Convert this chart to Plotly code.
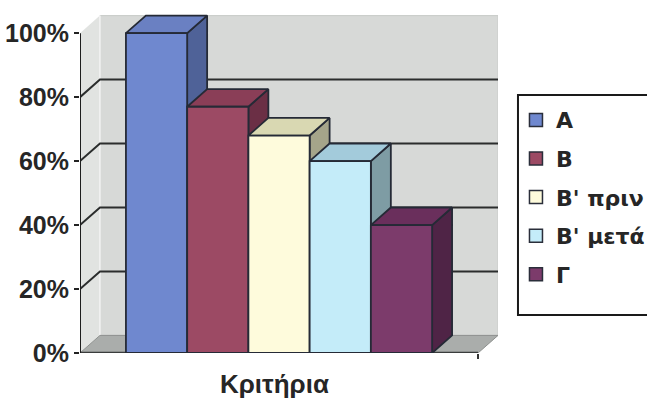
import plotly.graph_objects as go

# ---- data ----
categories = ["A", "B", "B' πριν", "B' μετά", "Γ"]
values = [100, 77, 68, 60, 40]
front_colors = ["#6f88cf", "#9c4a64", "#fefbdc", "#c4ecf9", "#7c3b6b"]
top_colors = ["#6a80c2", "#8a3e57", "#d9d8b2", "#a3cbdb", "#6a2f5c"]
side_colors = ["#4f6298", "#6b2f45", "#a5a58a", "#7e9ca4", "#4f2446"]
y_ticks = [0, 20, 40, 60, 80, 100]
y_tick_text = [f"{v}%" for v in y_ticks]
grid_vals = [20, 40, 60, 80]

# ---- 3D geometry (data units) ----
DX = 0.326      # depth offset in category units
DY = 5.5        # depth offset in percent units
X0 = -1.25      # left front edge of floor
X1 = len(categories) - 1 + 1.25  # right front edge of floor
YMAX = 100
EDGE = "#252a36"
FONT = "Liberation Sans, Arial"

fig = go.Figure()

def poly(xs, ys, fill, line_color=None, width=0):
    fig.add_trace(go.Scatter(
        x=xs + [xs[0]], y=ys + [ys[0]], mode="lines", fill="toself",
        fillcolor=fill,
        line=dict(color=line_color or fill, width=width),
        hoverinfo="skip", showlegend=False))

def line(xs, ys, color, width):
    fig.add_trace(go.Scatter(x=xs, y=ys, mode="lines",
                             line=dict(color=color, width=width),
                             hoverinfo="skip", showlegend=False))

# walls
poly([X0 + DX, X1 + DX, X1 + DX, X0 + DX], [DY, DY, YMAX + DY, YMAX + DY], "#d7d9d7", "#c8cac8", 1)
poly([X0, X0 + DX, X0 + DX, X0], [0, DY, YMAX + DY, YMAX], "#e1e3e1", "#e1e3e1", 0)
line([X0 + DX, X0 + DX], [DY, YMAX + DY], "#f4f4f4", 1.5)
poly([X0, X1, X1 + DX, X0 + DX], [0, 0, DY, DY], "#aaadab", "#8e918f", 1)

# gridlines (side wall + back wall)
for g in grid_vals:
    line([X0, X0 + DX, X1 + DX], [g, g + DY, g + DY], "#2b2d2d", 2)

# front floor edge and axis line
line([X0, X1], [0, 0], "#3a3c3c", 2.5)
line([X0, X0], [0, YMAX], "#1e1e1e", 2)

# bars
for i, (v, fc, tc, sc) in enumerate(zip(values, front_colors, top_colors, side_colors)):
    l, r = i - 0.5, i + 0.5
    poly([r, r + DX, r + DX, r], [0, DY, v + DY, v], sc, EDGE, 1.8)
    poly([l, r, r + DX, l + DX], [v, v, v + DY, v + DY], tc, EDGE, 1.8)
    poly([l, r, r, l], [0, 0, v, v], fc, EDGE, 1.8)

# legend entries
for i, (name, fc) in enumerate(zip(categories, front_colors)):
    fig.add_trace(go.Scatter(
        x=[None], y=[None], mode="markers", name=f"<b>{name}</b>", legendgroup=f"g{i}",
        marker=dict(symbol="square", size=13, color=fc,
                    line=dict(color="#2a2e3a", width=1.5))))

# legend frame (runs off the right edge, as in the reference)
fig.add_shape(type="rect", xref="paper", yref="paper",
              x0=1.0478, x1=1.45, y0=0.112, y1=0.761,
              line=dict(color="#1a1a1a", width=2), fillcolor="white", layer="below")

fig.add_annotation(text="<b>Κριτήρια</b>", x=(X0 + X1) / 2 - 0.08, xref="x",
                   y=0, yref="paper", yanchor="top", yshift=-14, showarrow=False,
                   font=dict(family=FONT, size=26, color="#262626"))

fig.update_layout(
    width=647, height=401,
    margin=dict(l=80, r=149, t=14, b=48, autoexpand=False),
    paper_bgcolor="white", plot_bgcolor="white",
    font=dict(family=FONT, color="#262626"),
    showlegend=True,
    legend=dict(x=1.043, y=0.749, xanchor="left", yanchor="top",
                borderwidth=0, bgcolor="rgba(0,0,0,0)",
                tracegroupgap=7,
                font=dict(size=22, family="DejaVu Sans", color="#262626")),
    xaxis=dict(range=[X0, X1 + DX], showgrid=False, zeroline=False, showline=False,
               tickvals=[X1], ticks="outside", ticklen=5, tickwidth=1.5,
               tickcolor="#333", showticklabels=False, fixedrange=True),
    yaxis=dict(range=[0, 106], showgrid=False, zeroline=False, showline=False,
               tickvals=y_ticks, ticktext=[f"<b>{t}</b>" for t in y_tick_text],
               ticks="outside", ticklen=5,
               tickwidth=1.5, tickcolor="#222",
               tickfont=dict(size=25, family=FONT, color="#262626"),
               fixedrange=True),
)

fig.write_html("out.html")
